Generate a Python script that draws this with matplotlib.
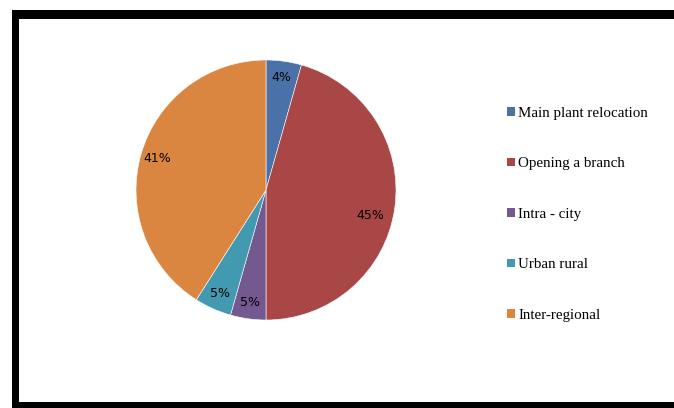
import matplotlib
matplotlib.use("Agg")
import numpy as np
import matplotlib.pyplot as plt
from matplotlib.patches import Patch, Rectangle

categories = ["Main plant relocation", "Opening a branch", "Intra - city", "Urban rural", "Inter-regional"]
shares = [4.4, 45.6, 4.4, 4.6, 41.0]
pct_labels = ["4%", "45%", "5%", "5%", "41%"]
colors = ["#4A72A8", "#A84745", "#735990", "#4299B0", "#DA8641"]

W, H = 674, 408
fig = plt.figure(figsize=(W / 100, H / 100), dpi=100)
fig.patch.set_facecolor("white")

# thick black frame (cropped on the right)
for x0, y0, x1, y1 in [(12, 10, 674, 19), (12, 10, 19, 408), (12, 402, 674, 408)]:
    fig.add_artist(Rectangle((x0 / W, 1 - y1 / H), (x1 - x0) / W, (y1 - y0) / H,
                             transform=fig.transFigure, color="black", lw=0))

ax = fig.add_axes([136 / W, (H - 320) / H, 260 / W, 260 / H])
wedges, _ = ax.pie(
    shares, colors=colors, startangle=90, counterclock=False,
    wedgeprops=dict(edgecolor="white", linewidth=0.4),
)
# label placement (Excel "best fit" nudges the big red label a bit lower)
dist = [0.87, 0.83, 0.87, 0.87, 0.87]
nudge = [0, -6, 0, 0, 0]
for w, lab, d, dn in zip(wedges, pct_labels, dist, nudge):
    ang = np.deg2rad((w.theta1 + w.theta2) / 2 + dn)
    ax.text(d * np.cos(ang), d * np.sin(ang), lab, ha="center", va="center",
            fontsize=9, color="black", family="DejaVu Sans")
ax.set_xlim(-1, 1)
ax.set_ylim(-1, 1)
ax.set_aspect("equal")
ax.axis("off")

handles = [Patch(facecolor=c, edgecolor="none") for c in colors]
fig.legend(handles, categories, loc="upper left", bbox_to_anchor=(507 / W, 1 - 107 / H),
           frameon=False, prop=dict(family="Liberation Serif", size=10.8),
           handlelength=0.5, handleheight=0.5, handletextpad=0.25,
           labelspacing=2.5, borderaxespad=0, borderpad=0)

fig.savefig("out.png", dpi=100)
